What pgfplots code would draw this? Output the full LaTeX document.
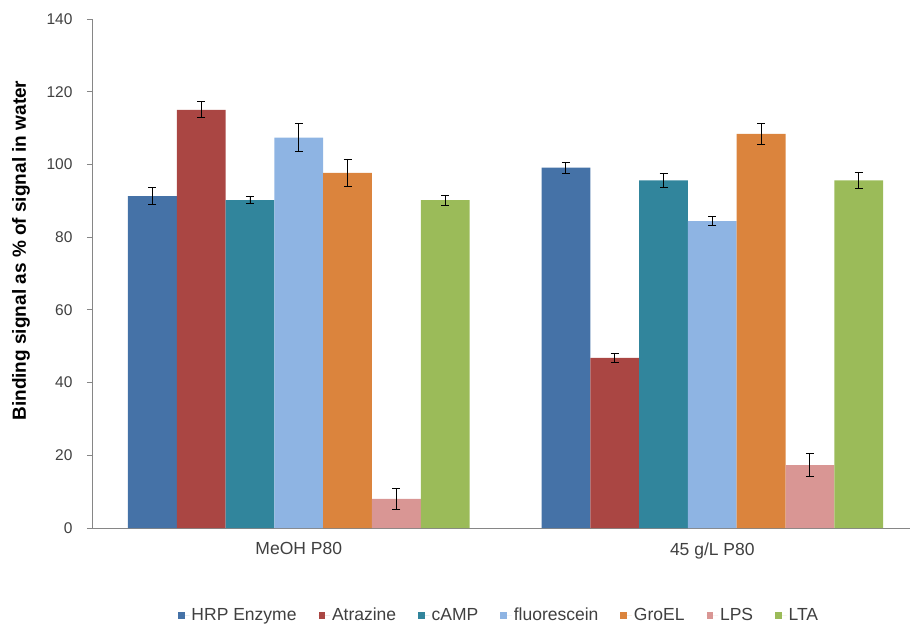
\documentclass[border=0pt]{standalone}
\usepackage{pgfplots}
\pgfplotsset{compat=1.18}
\usepackage{fontspec}
\setmainfont{Liberation Sans}

\definecolor{cHRP}{HTML}{4572A7}
\definecolor{cAtr}{HTML}{AA4643}
\definecolor{cCamp}{HTML}{31859C}
\definecolor{cFlu}{HTML}{8EB4E3}
\definecolor{cGro}{HTML}{DB843D}
\definecolor{cLps}{HTML}{D99694}
\definecolor{cLta}{HTML}{9BBB59}
\definecolor{axisgray}{HTML}{868686}
\definecolor{txtgray}{HTML}{404040}

\begin{document}
\begin{tikzpicture}
\useasboundingbox (-92bp,-98bp) rectangle (820bp,528bp);
\begin{axis}[
  at={(0,0)}, anchor=south west,
  scale only axis,
  width=818bp, height=509bp,
  ybar=0pt, bar width=48.8bp,
  xmin=-0.5, xmax=1.478,
  ymin=0, ymax=140,
  ytick={0,20,...,140},
  xtick={0,1},
  xticklabels={MeOH P80, 45 g/L P80},
  extra x ticks={0.5},
  extra x tick labels={},
  extra x tick style={major tick length=5bp, tick style={axisgray, line width=0.8pt}},
  axis x line*=bottom, axis y line*=left,
  axis line style={axisgray, line width=0.8pt, -},
  x tick style={draw=none},
  y tick style={axisgray, line width=0.8pt},
  tick align=outside, major tick length=5bp,
  /pgf/number format/assume math mode=true,
  tick label style={text=txtgray},
  yticklabel style={font=\fontsize{15.5bp}{18bp}\selectfont, xshift=-11bp},
  xticklabel style={font=\fontsize{17.5bp}{20bp}\selectfont, yshift=-6bp},
  ylabel={Binding signal as \% of signal in water},
  ylabel style={at={(axis description cs:-0.0868,0.545)}, anchor=center, rotate=0,
    font=\fontsize{19bp}{22bp}\selectfont\bfseries},
  legend columns=7,
  legend style={at={(axis description cs:0.4976,-0.171)}, anchor=center, draw=none,
    font=\fontsize{17.5bp}{20bp}\selectfont, text=txtgray,
    /tikz/every even column/.append style={column sep=20bp}},
  legend image code/.code={\path[#1, draw=none] (0bp,-3.5bp) rectangle (6.5bp,3.5bp);
    \path (0bp,0bp) -- (11.5bp,0bp);},
  error bars/y dir=both, error bars/y explicit,
  error bars/error bar style={black, line width=0.9pt},
  error bars/error mark options={rotate=90, mark size=4bp, black, line width=0.9pt},
]
\addplot[fill=cHRP, draw=none] coordinates {(0,91.3) +- (0,2.4) (1,99.1) +- (0,1.5)};
\addplot[fill=cAtr, draw=none] coordinates {(0,115.0) +- (0,2.2) (1,46.8) +- (0,1.2)};
\addplot[fill=cCamp, draw=none] coordinates {(0,90.2) +- (0,0.9) (1,95.6) +- (0,2.0)};
\addplot[fill=cFlu, draw=none] coordinates {(0,107.4) +- (0,3.8) (1,84.4) +- (0,1.3)};
\addplot[fill=cGro, draw=none] coordinates {(0,97.7) +- (0,3.8) (1,108.4) +- (0,2.8)};
\addplot[fill=cLps, draw=none] coordinates {(0,8.0) +- (0,3.0) (1,17.3) +- (0,3.2)};
\addplot[fill=cLta, draw=none] coordinates {(0,90.2) +- (0,1.4) (1,95.6) +- (0,2.1)};
\legend{HRP Enzyme, Atrazine, cAMP, fluorescein, GroEL, LPS, LTA}
\end{axis}
\end{tikzpicture}
\end{document}
